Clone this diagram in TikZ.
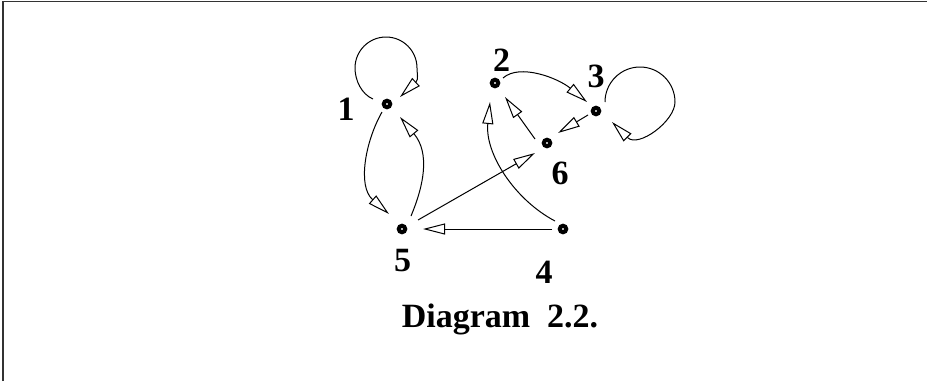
\documentclass[tikz,border=0pt]{standalone}
\usepackage{fontspec}
\setmainfont{Liberation Serif}
\usetikzlibrary{arrows.meta,calc}
\tikzset{
  dot/.style={circle, draw=black, fill=white, line width=4pt, minimum size=6.5pt, inner sep=0pt, outer sep=0pt},
  lbl/.style={font=\bfseries\fontsize{34}{40}\selectfont, inner sep=0pt, anchor=base},
  arr/.style={line width=1pt, -{Triangle[open, length=22pt, width=11pt, line width=1pt]}},
  frame/.style={line width=1.2pt, black!80}
}
\begin{document}
\begin{tikzpicture}[x=1pt, y=-1pt]
\useasboundingbox (0,0) rectangle (927,381);
\draw[frame] (3,381) -- (3,1.5) -- (927,1.5);
% nodes
\node[dot] (n1) at (387,104) {};
\node[dot] (n2) at (495,83) {};
\node[dot] (n3) at (596,111) {};
\node[dot] (n4) at (563,229) {};
\node[dot] (n5) at (402,229) {};
\node[dot] (n6) at (547,143) {};
% labels
\node[lbl] (l1) at (346,120) {1};
\node[lbl] (l2) at (501.5,71) {2};
\node[lbl] (l3) at (596,87) {3};
\node[lbl] (l4) at (544,283) {4};
\node[lbl] (l5) at (402.5,271) {5};
\node[lbl] (l6) at (560,184) {6};
% caption
\node[lbl] (cap) at (500,327) {Diagram\hspace{0.5em}2.2.};
% edges
% loop at 1
\draw[arr] ($(n1)+(-14,-5)$) .. controls +(-11.4,-4.8) and +(0,12.4) .. ($(n1)+(-32,-36)$)
  .. controls +(0,-17.1) and +(-17.1,0) .. ($(n1)+(-1,-67)$)
  .. controls +(17.1,0) and +(0,-17.1) .. ($(n1)+(30,-36)$)
  .. controls +(0,5) and +(2.7,-2.4) .. ($(n1)+(29,-22)$) -- ($(n1)+(13,-7)$);
% 1 -> 5
\draw[arr] ($(n1)+(-5,8)$) .. controls (365,142) and (357.5,186.3) .. ($(n5)+(-29.5,-29.5)$) -- ($(n5)+(-13,-15)$);
% 5 -> 1
\draw[arr] ($(n5)+(9,-13)$) .. controls (424,185) and (430,153.2) .. ($(n1)+(27.1,29.9)$) -- ($(n1)+(13,13)$);
% 2 -> 3
\draw[arr] ($(n2)+(8,-5)$) .. controls (520,63) and (558.5,78.4) .. ($(n3)+(-26,-23)$) -- ($(n3)+(-9,-9)$);
% loop at 3
\draw[arr] ($(n3)+(9,-9)$) .. controls +(0,-19.3) and +(-19.3,0) .. ($(n3)+(44,-44)$)
  .. controls +(19.3,0) and +(0,-19.3) .. ($(n3)+(79,-9)$)
  .. controls +(0,19.3) and (638.2,148.2) .. ($(n3)+(31.6,26.6)$) -- ($(n3)+(16,11)$);
% 3 -> 6
\draw[arr] ($(n3)+(-8,4)$) -- ($(n6)+(11,-10)$);
% 6 -> 2
\draw[arr] ($(n6)+(-12,-4)$) -- ($(n2)+(10,14)$);
% 4 -> 2
\draw[arr] ($(n4)+(-8,-8)$) .. controls (515,200) and (484.8,153.8) .. ($(n2)+(-7.2,40.9)$) -- ($(n2)+(-5,19)$);
% 5 -> 6
\draw[arr] ($(n5)+(16,-9)$) -- ($(n6)+(-12,10)$);
% 4 -> 5
\draw[arr] ($(n4)+(-11,0)$) -- ($(n5)+(21,0)$);
\end{tikzpicture}
\end{document}
